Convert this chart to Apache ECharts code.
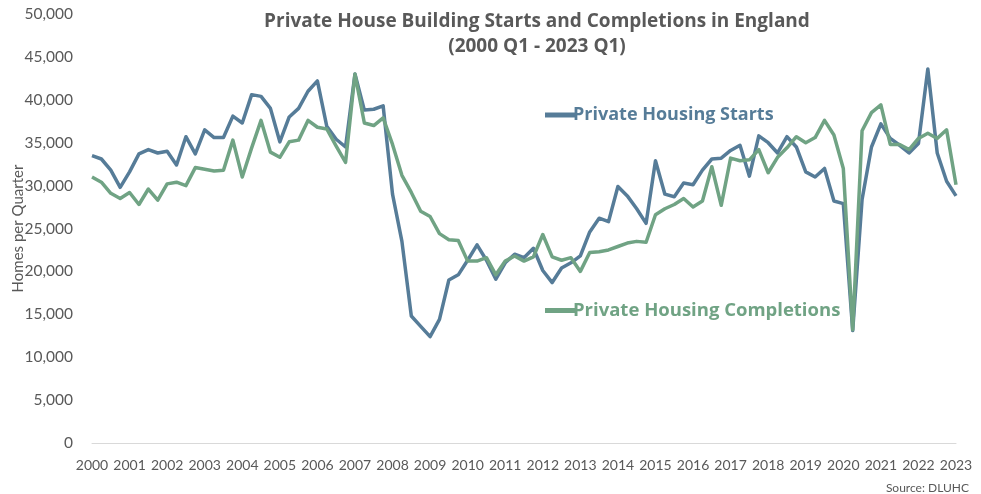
<!DOCTYPE html>
<html>
<head>
<meta charset="utf-8">
<script src="https://cdn.jsdelivr.net/npm/echarts@6/dist/echarts.min.js"></script>
<style>
  html, body { margin: 0; padding: 0; background: #ffffff; }
  #chart { width: 981px; height: 494px; }
</style>
</head>
<body>
<div id="chart"></div>
<script>
// Quarterly private house building in England, 2000 Q1 to 2023 Q1
const years = [];
for (let y = 2000; y <= 2023; y++) years.push(String(y));

const quarters = [];
years.forEach(y => { for (let q = 1; q <= 4; q++) quarters.push(y + ' Q' + q); });
quarters.length = 93; // ends at 2023 Q1

const startsValues = [
  33500, 33100, 31800, 29800, 31600, 33700, 34200, 33800,
  34000, 32400, 35700, 33700, 36500, 35600, 35600, 38100,
  37300, 40600, 40400, 39000, 35100, 38000, 39000, 41000,
  42200, 36900, 35400, 34500, 43000, 38800, 38900, 39300,
  29000, 23500, 14800, 13600, 12400, 14400, 19000, 19600,
  21300, 23100, 21300, 19100, 21000, 22000, 21600, 22700,
  20100, 18700, 20400, 21000, 21800, 24600, 26200, 25800,
  29900, 28800, 27300, 25600, 32900, 29000, 28700, 30300,
  30100, 31800, 33100, 33200, 34100, 34700, 31100, 35800,
  35000, 33800, 35700, 34500, 31600, 31000, 32000, 28200,
  27900, 13100, 28400, 34500, 37200, 35500, 34700, 33800,
  34900, 43600, 33800, 30500, 28800
];

const completionsValues = [
  31000, 30400, 29100, 28500, 29200, 27800, 29600, 28300,
  30200, 30400, 30000, 32100, 31900, 31700, 31800, 35300,
  31000, 34400, 37600, 33900, 33300, 35100, 35300, 37600,
  36800, 36600, 34600, 32700, 43000, 37300, 37000, 37900,
  34800, 31200, 29200, 27000, 26400, 24400, 23700, 23600,
  21200, 21200, 21600, 19600, 21200, 21800, 21200, 21700,
  24300, 21700, 21300, 21600, 20000, 22200, 22300, 22500,
  22900, 23300, 23500, 23400, 26600, 27300, 27800, 28500,
  27500, 28200, 32200, 27700, 33200, 32900, 33000, 34200,
  31500, 33300, 34400, 35700, 35000, 35600, 37600, 35900,
  32000, 13200, 36400, 38500, 39400, 34800, 34800, 34200,
  35500, 36100, 35500, 36500, 30100
];

const seriesNames = ['Private Housing Starts', 'Private Housing Completions'];
const titleLines = ['Private House Building Starts and Completions in England', '(2000 Q1 - 2023 Q1)'];
const sourceText = 'Source: DLUHC';
const yAxisName = 'Homes per Quarter';

const BLUE = '#567c98';
const GREEN = '#70a384';
const GREY = '#595959';
const FONT = 'Lato, "Open Sans", sans-serif';
const BOLD_FONT = '"Open Sans", Lato, sans-serif';

const chart = echarts.init(document.getElementById('chart'), null, { renderer: 'canvas' });

chart.setOption({
  backgroundColor: '#ffffff',
  animation: false,
  textStyle: { fontFamily: FONT },
  title: [
    {
      text: titleLines.join('\n'),
      left: 532,
      textAlign: 'center',
      top: 4,
      textStyle: { fontFamily: BOLD_FONT, fontSize: 19, fontWeight: 'bold', color: GREY, lineHeight: 25 }
    },
    {
      text: sourceText,
      right: 7,
      top: 477,
      textStyle: { fontFamily: FONT, fontSize: 12, fontWeight: 'normal', color: GREY }
    }
  ],
  legend: [
    {
      data: [seriesNames[0]],
      left: 540,
      top: 101,
      icon: 'rect',
      itemWidth: 32,
      itemHeight: 5,
      textStyle: { fontFamily: BOLD_FONT, fontSize: 18, fontWeight: 'bold', color: BLUE, padding: [0, 0, 0, -9] }
    },
    {
      data: [seriesNames[1]],
      left: 540,
      top: 296,
      icon: 'rect',
      itemWidth: 32,
      itemHeight: 5,
      textStyle: { fontFamily: BOLD_FONT, fontSize: 18.5, fontWeight: 'bold', color: GREEN, padding: [0, 0, 0, -9] }
    }
  ],
  grid: { left: 92, right: 25, top: 14, bottom: 51, containLabel: false, outerBoundsMode: 'none' },
  xAxis: {
    type: 'category',
    data: quarters,
    boundaryGap: false,
    axisLine: { show: true, lineStyle: { color: '#d9d9d9', width: 1 } },
    axisTick: { show: false },
    axisLabel: {
      interval: 3,
      color: GREY,
      fontSize: 14,
      fontFamily: FONT,
      margin: 15,
      formatter: v => v.slice(0, 4)
    },
    splitLine: { show: false }
  },
  yAxis: {
    type: 'value',
    min: 0,
    max: 50000,
    interval: 5000,
    name: yAxisName,
    nameLocation: 'middle',
    nameGap: 66,
    nameMoveOverlap: false,
    nameTextStyle: { color: GREY, fontSize: 15, fontFamily: FONT },
    axisLine: { show: false },
    axisTick: { show: false },
    splitLine: { show: false },
    axisLabel: {
      color: GREY,
      fontSize: 15.5,
      fontFamily: FONT,
      margin: 19,
      formatter: v => v.toLocaleString('en-GB')
    }
  },
  series: [
    {
      name: seriesNames[0],
      type: 'line',
      data: startsValues,
      symbol: 'none',
      color: BLUE,
      lineStyle: { width: 3.5, color: BLUE, join: 'round' },
      z: 2
    },
    {
      name: seriesNames[1],
      type: 'line',
      data: completionsValues,
      symbol: 'none',
      color: GREEN,
      lineStyle: { width: 3.5, color: GREEN, join: 'round' },
      z: 3
    }
  ]
});
</script>
</body>
</html>
